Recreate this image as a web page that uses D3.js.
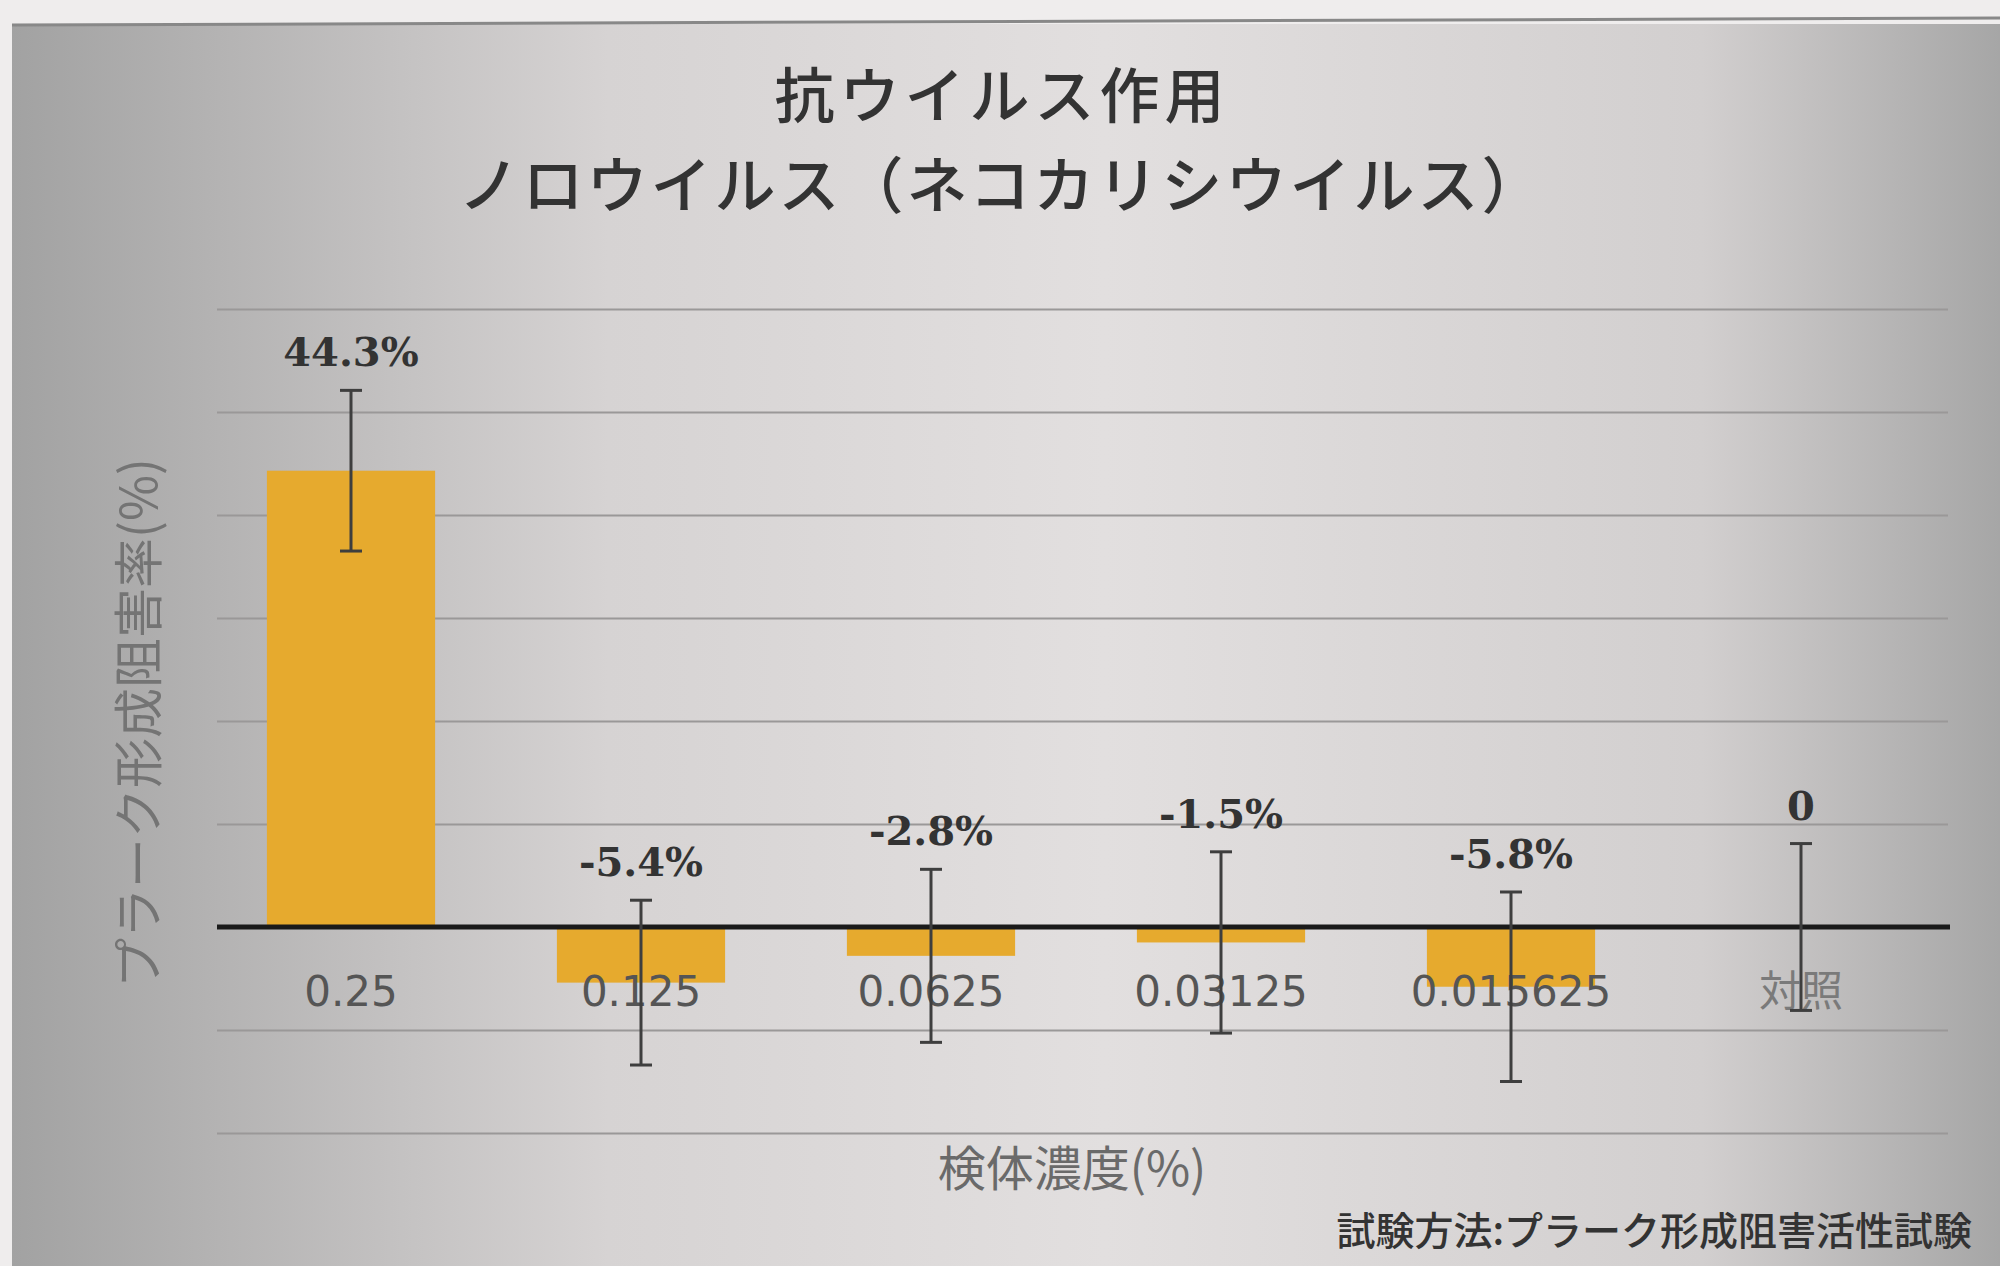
<!DOCTYPE html>
<html>
<head>
<meta charset="utf-8">
<script src="https://cdn.jsdelivr.net/npm/d3@7"></script>
<style>
  body { margin: 0; background: #efeded; }
  svg { display: block; }
</style>
</head>
<body>
<svg id="chart"></svg>
<script>
// data
const categories = ["0.25", "0.125", "0.0625", "0.03125", "0.015625", "対照"];
const values = [44.3, -5.4, -2.8, -1.5, -5.8, 0];
const errors = [7.8, 8.0, 8.4, 8.8, 9.2, 8.1];
const valueLabels = ["44.3%", "-5.4%", "-2.8%", "-1.5%", "-5.8%", "0"];
const yTicks = [-20, -10, 0, 10, 20, 30, 40, 50, 60];

const W = 2000, H = 1266;
const svg = d3.select("#chart").attr("width", W).attr("height", H);

// photo-like grey gradient backdrop
const defs = svg.append("defs");
const grad = defs.append("linearGradient").attr("id", "bg").attr("x1", 0).attr("x2", 1).attr("y1", 0).attr("y2", 0);
grad.append("stop").attr("offset", "0%").attr("stop-color", "#a2a2a2");
grad.append("stop").attr("offset", "30%").attr("stop-color", "#d6d3d3");
grad.append("stop").attr("offset", "55%").attr("stop-color", "#e2dfdf");
grad.append("stop").attr("offset", "85%").attr("stop-color", "#d2cfcf");
grad.append("stop").attr("offset", "100%").attr("stop-color", "#a6a6a6");

svg.append("rect").attr("x", 12).attr("y", 24).attr("width", W - 12).attr("height", H - 24)
  .attr("fill", "url(#bg)");
svg.append("line").attr("x1", 12).attr("x2", W).attr("y1", 25).attr("y2", 18)
  .attr("stroke", "#888").attr("stroke-width", 3);

const x = d3.scaleBand().domain(categories).range([206, 1946])
  .paddingInner(0.42).paddingOuter(0.21);
const y = d3.scaleLinear().domain([-20, 60]).range([1133, 309]);

// gridlines
const grid = svg.append("g").attr("transform", "translate(217,0)")
  .call(d3.axisLeft(y).tickValues(yTicks).tickSize(-(1948 - 217)).tickFormat(""));
grid.select(".domain").remove();
grid.selectAll(".tick line").attr("stroke", "#9a9898").attr("stroke-width", 2);

// bars
svg.selectAll(".bar")
  .data(values)
  .join("rect")
  .attr("class", "bar")
  .attr("x", (d, i) => x(categories[i]))
  .attr("width", x.bandwidth())
  .attr("y", d => y(Math.max(0, d)))
  .attr("height", d => Math.abs(y(d) - y(0)))
  .attr("fill", "#e6aa2e");

// zero line
svg.append("line")
  .attr("x1", 217).attr("x2", 1950)
  .attr("y1", y(0)).attr("y2", y(0))
  .attr("stroke", "#1a1a1a").attr("stroke-width", 5);

// category labels
svg.selectAll(".cat")
  .data(categories)
  .join("text")
  .attr("class", "cat")
  .attr("x", d => x(d) + x.bandwidth() / 2)
  .attr("y", 1006)
  .attr("text-anchor", "middle")
  .attr("font-family", d => d === "対照" ? "Noto Sans CJK JP" : "DejaVu Sans")
  .attr("font-size", 42)
  .attr("fill", d => d === "対照" ? "#7a7a7a" : "#555")
  .text(d => d);

// error bars
const eb = svg.append("g").attr("stroke", "#3e3e3e").attr("stroke-width", 3);
values.forEach((v, i) => {
  const cx = x(categories[i]) + x.bandwidth() / 2;
  const top = y(v + errors[i]), bot = y(v - errors[i]);
  eb.append("line").attr("x1", cx).attr("x2", cx).attr("y1", top).attr("y2", bot);
  eb.append("line").attr("x1", cx - 11).attr("x2", cx + 11).attr("y1", top).attr("y2", top);
  eb.append("line").attr("x1", cx - 11).attr("x2", cx + 11).attr("y1", bot).attr("y2", bot);
});

// value labels
svg.selectAll(".val")
  .data(values)
  .join("text")
  .attr("class", "val")
  .attr("x", (d, i) => x(categories[i]) + x.bandwidth() / 2)
  .attr("y", (d, i) => y(d + errors[i]) - 24)
  .attr("text-anchor", "middle")
  .attr("font-family", "DejaVu Serif")
  .attr("font-weight", "bold")
  .attr("font-size", 40)
  .attr("fill", "#333")
  .text((d, i) => valueLabels[i]);

// titles
svg.append("text").attr("x", 1002).attr("y", 118).attr("text-anchor", "middle")
  .attr("font-family", "Noto Sans CJK JP").attr("font-weight", 500).attr("font-size", 60)
  .attr("letter-spacing", 5)
  .attr("fill", "#333").text("抗ウイルス作用");
svg.append("text").attr("x", 1002).attr("y", 208).attr("text-anchor", "middle")
  .attr("font-family", "Noto Sans CJK JP").attr("font-weight", 500).attr("font-size", 61)
  .attr("letter-spacing", 3)
  .attr("fill", "#333").text("ノロウイルス（ネコカリシウイルス）");

// axis titles
svg.append("text")
  .attr("transform", `translate(157,${(y(60) + y(-20)) / 2 + 2}) rotate(-90)`)
  .attr("text-anchor", "middle")
  .attr("font-family", "Noto Sans CJK JP").attr("font-size", 50)
  .attr("fill", "#747474").text("プラーク形成阻害率(%)");

svg.append("text").attr("x", 1072).attr("y", 1186).attr("text-anchor", "middle")
  .attr("font-family", "Noto Sans CJK JP").attr("font-size", 48)
  .attr("fill", "#6a6a6a").text("検体濃度(%)");

svg.append("text").attr("x", 1972).attr("y", 1245).attr("text-anchor", "end")
  .attr("font-family", "Noto Sans CJK JP").attr("font-weight", 500).attr("font-size", 39)
  .attr("fill", "#333").text("試験方法:プラーク形成阻害活性試験");
</script>
</body>
</html>
